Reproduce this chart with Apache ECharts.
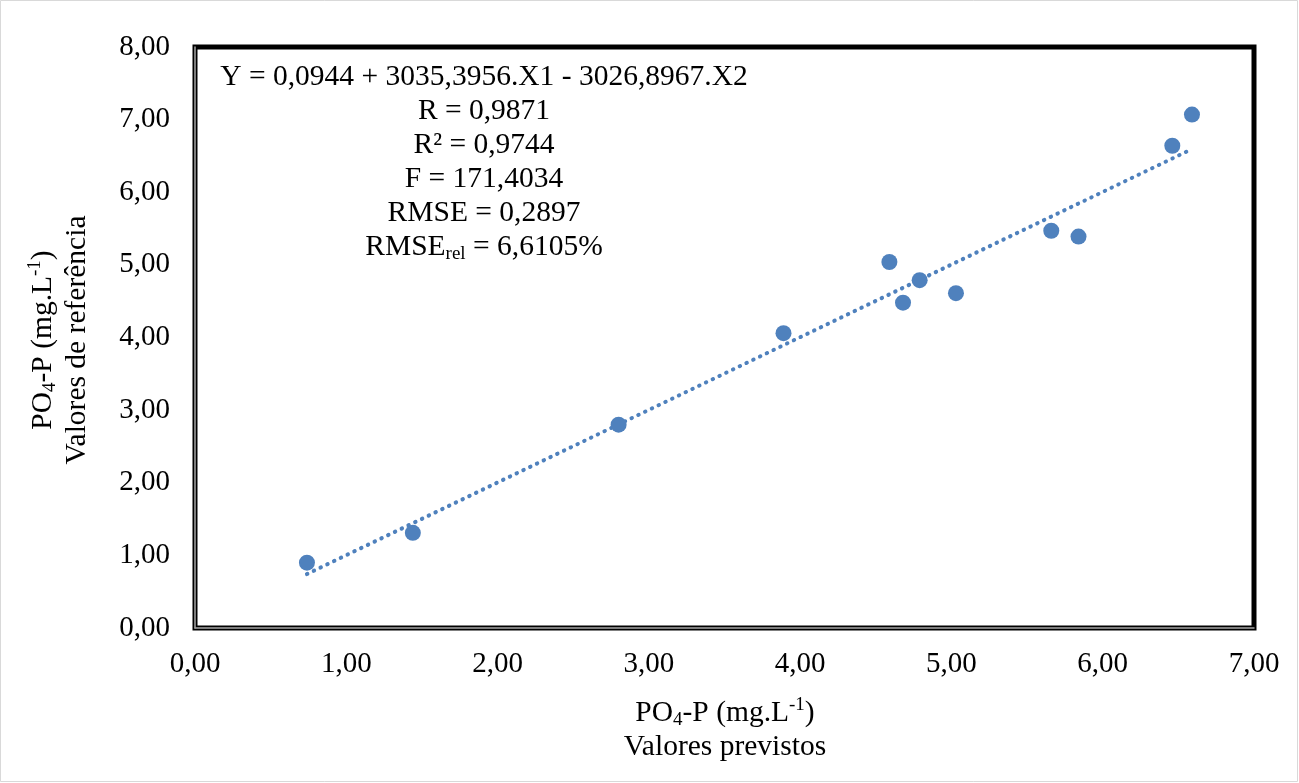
<!DOCTYPE html>
<html>
<head>
<meta charset="utf-8">
<script src="https://cdn.jsdelivr.net/npm/echarts@6/dist/echarts.min.js"></script>
<style>
html,body{margin:0;padding:0;background:#fff;}
#c{width:1299px;height:783px;}
</style>
</head>
<body>
<div id="c"></div>
<script>
// Data
const predicted = [0.74, 1.44, 2.80, 3.89, 4.59, 4.68, 4.79, 5.03, 5.66, 5.84, 6.46, 6.59];
const reference = [0.90, 1.31, 2.80, 4.06, 5.04, 4.48, 4.79, 4.61, 5.47, 5.39, 6.64, 7.07];
const xTicks = [0, 1, 2, 3, 4, 5, 6, 7];
const yTicks = [0, 1, 2, 3, 4, 5, 6, 7, 8];
const statLines = [
  'Y = 0,0944 + 3035,3956.X1 - 3026,8967.X2',
  'R = 0,9871',
  'R² = 0,9744',
  'F = 171,4034',
  'RMSE = 0,2897',
  '{n|RMSE}{sub|rel}{n| = 6,6105%}'
];

// linear trendline (least squares of the points)
const n = predicted.length;
let sx=0, sy=0, sxx=0, sxy=0;
for (let i=0;i<n;i++){ sx+=predicted[i]; sy+=reference[i]; sxx+=predicted[i]*predicted[i]; sxy+=predicted[i]*reference[i]; }
const slope = (n*sxy - sx*sy)/(n*sxx - sx*sx);
const icpt = (sy - slope*sx)/n;
const xmin = Math.min(...predicted), xmax = Math.max(...predicted);
const trend = [[xmin, icpt+slope*xmin],[xmax, icpt+slope*xmax]];

const FONT = '"Liberation Serif","Times New Roman",serif';
const fmt = v => v.toFixed(2).replace('.', ',');
const blue = '#4F81BD';

const chart = echarts.init(document.getElementById('c'), null, {renderer:'canvas'});

function rich(lh){
  return {
    n:{fontFamily:FONT,fontSize:29.5,color:'#000',lineHeight:lh},
    sub:{fontFamily:FONT,fontSize:19,color:'#000',lineHeight:19,verticalAlign:'bottom'},
    sup:{fontFamily:FONT,fontSize:19,color:'#000',lineHeight:19,verticalAlign:'top'}
  };
}

const statText = statLines.map(s => s.indexOf('{') === 0 ? s : '{n|' + s + '}').join('\n');

chart.setOption({
  animation:false,
  backgroundColor:'#fff',
  grid:{left:195,right:45,top:47,bottom:155,show:true,borderColor:'#000',borderWidth:5,backgroundColor:'#fff'},
  xAxis:[{
    type:'value',min:0,max:7,interval:1,
    axisLine:{show:true,onZero:false,lineStyle:{color:'#a6a6a6',width:1.5}},
    axisTick:{show:false},splitLine:{show:false},
    axisLabel:{fontFamily:FONT,fontSize:29,color:'#000',margin:22,formatter:fmt}
  }],
  yAxis:[{
    type:'value',min:0,max:8,interval:1,
    axisLine:{show:true,onZero:false,lineStyle:{color:'#a6a6a6',width:1.5}},
    axisTick:{show:false},splitLine:{show:false},
    axisLabel:{fontFamily:FONT,fontSize:29,color:'#000',margin:25,formatter:fmt}
  }],
  series:[{
    type:'line',data:trend,showSymbol:false,symbol:'none',silent:true,
    lineStyle:{color:blue,width:4,type:[0.5,7],cap:'round'},z:2
  },{
    type:'scatter',data:predicted.map((x,i)=>[x,reference[i]]),
    symbol:'circle',symbolSize:16,itemStyle:{color:blue,opacity:1},z:3
  }],
  graphic:[
    {type:'rect',shape:{x:0.5,y:0.5,width:1297,height:781},style:{fill:'none',stroke:'#d9d9d9',lineWidth:1},silent:true,z:-1},
    {type:'text',
      style:{text:statText,rich:rich(34),x:484,y:60,align:'center',verticalAlign:'top'},z:10},
    {type:'text',
      style:{text:'{n|PO}{sub|4}{n|-P (mg.L}{sup|-1}{n|)}\n{n|Valores previstos}',rich:rich(34),x:725,y:696,align:'center',verticalAlign:'top'},z:10},
    {type:'text',rotation:Math.PI/2,x:60,y:340,
      style:{text:'{n|PO}{sub|4}{n|-P (mg.L}{sup|-1}{n|)}\n{n|Valores de referência}',rich:rich(34),x:0,y:0,align:'center',verticalAlign:'middle'},z:10}
  ]
});
</script>
</body>
</html>
